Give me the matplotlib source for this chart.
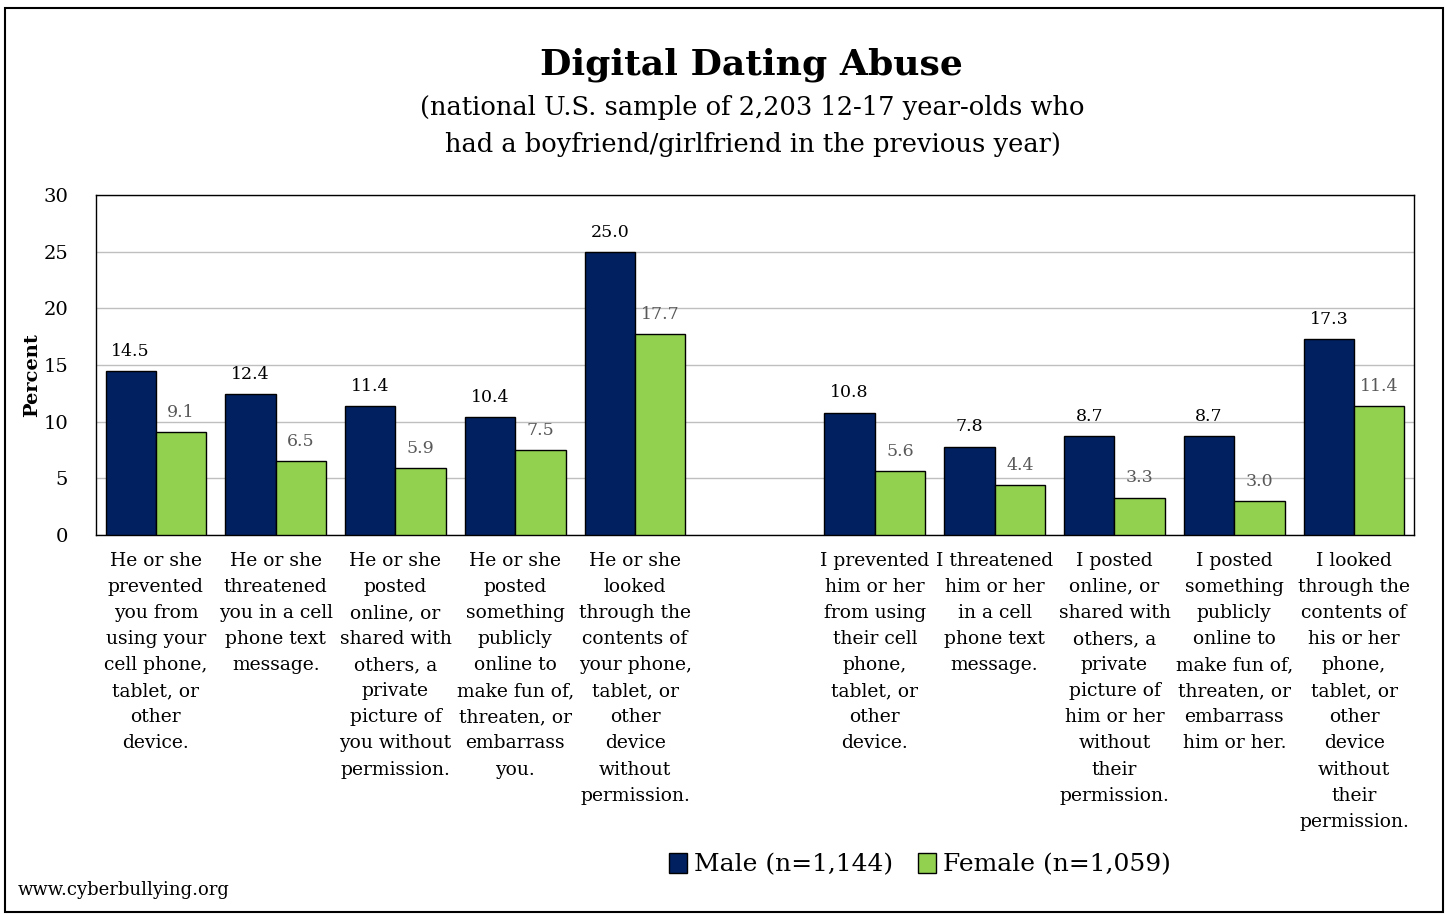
import numpy as np
import matplotlib
matplotlib.use("Agg")
import matplotlib.pyplot as plt
from matplotlib.patches import Patch, Rectangle

categories = [
    "He or she\nprevented\nyou from\nusing your\ncell phone,\ntablet, or\nother\ndevice.",
    "He or she\nthreatened\nyou in a cell\nphone text\nmessage.",
    "He or she\nposted\nonline, or\nshared with\nothers, a\nprivate\npicture of\nyou without\npermission.",
    "He or she\nposted\nsomething\npublicly\nonline to\nmake fun of,\nthreaten, or\nembarrass\nyou.",
    "He or she\nlooked\nthrough the\ncontents of\nyour phone,\ntablet, or\nother\ndevice\nwithout\npermission.",
    "",
    "I prevented\nhim or her\nfrom using\ntheir cell\nphone,\ntablet, or\nother\ndevice.",
    "I threatened\nhim or her\nin a cell\nphone text\nmessage.",
    "I posted\nonline, or\nshared with\nothers, a\nprivate\npicture of\nhim or her\nwithout\ntheir\npermission.",
    "I posted\nsomething\npublicly\nonline to\nmake fun of,\nthreaten, or\nembarrass\nhim or her.",
    "I looked\nthrough the\ncontents of\nhis or her\nphone,\ntablet, or\nother\ndevice\nwithout\ntheir\npermission.",
]
male = [14.5, 12.4, 11.4, 10.4, 25.0, np.nan, 10.8, 7.8, 8.7, 8.7, 17.3]
female = [9.1, 6.5, 5.9, 7.5, 17.7, np.nan, 5.6, 4.4, 3.3, 3.0, 11.4]
series_names = ["Male (n=1,144)", "Female (n=1,059)"]
title = "Digital Dating Abuse"
subtitle = "(national U.S. sample of 2,203 12-17 year-olds who\nhad a boyfriend/girlfriend in the previous year)"
source = "www.cyberbullying.org"

NAVY = "#002060"
GREEN = "#92D050"
FONT = "DejaVu Serif"
plt.rcParams["font.family"] = FONT

fig = plt.figure(figsize=(14.47, 9.14), dpi=100)
ax = fig.add_axes([0.0663, 0.4147, 0.9109, 0.3720])

x = np.arange(len(categories))
w = 0.42
ax.bar(x - w / 2, male, width=w, color=NAVY, edgecolor="black", linewidth=1, zorder=3)
ax.bar(x + w / 2, female, width=w, color=GREEN, edgecolor="black", linewidth=1, zorder=3)

for xi, m, f in zip(x, male, female):
    if not np.isnan(m):
        ax.annotate(f"{m:.1f}", (xi - w / 2, m), xytext=(0, 8), textcoords="offset points",
                    ha="center", va="bottom", fontsize=12.5, color="black")
    if not np.isnan(f):
        ax.annotate(f"{f:.1f}", (xi + w / 2, f), xytext=(0, 8), textcoords="offset points",
                    ha="center", va="bottom", fontsize=12.5, color="#595959")

ax.set_xlim(-0.5, len(categories) - 0.5)
ax.set_ylim(0, 30)
ax.set_yticks(np.arange(0, 31, 5))
ax.tick_params(axis="y", length=0, labelsize=14, pad=20)
ax.set_xticks(x)
ax.set_xticklabels(categories, fontsize=13.5, linespacing=1.58, va="top")
ax.tick_params(axis="x", length=0, pad=12)
ax.yaxis.grid(True, color="#bfbfbf", linewidth=1, zorder=0)
ax.set_axisbelow(True)
for s in ax.spines.values():
    s.set_color("black")
    s.set_linewidth(1)

fig.text(0.022, 0.59, "Percent", rotation=90, ha="center", va="center",
         fontsize=14, fontweight="bold")

fig.text(0.519, 0.929, title, ha="center", va="center", fontsize=26, fontweight="bold")
fig.text(0.520, 0.862, subtitle, ha="center", va="center", fontsize=18.5, linespacing=1.62)

handles = [Patch(facecolor=NAVY, edgecolor="black"), Patch(facecolor=GREEN, edgecolor="black")]
fig.legend(handles, series_names, loc="center", bbox_to_anchor=(0.636, 0.054), ncol=2,
           frameon=False, fontsize=18, handlelength=0.7, handleheight=0.9,
           handletextpad=0.3, columnspacing=1.0)

fig.text(0.0125, 0.026, source, ha="left", va="center", fontsize=13)

fig.patches.append(Rectangle((0.0035, 0.002), 0.9935, 0.989, transform=fig.transFigure,
                             fill=False, edgecolor="black", linewidth=1.5))

fig.savefig("out.png", dpi=100)
